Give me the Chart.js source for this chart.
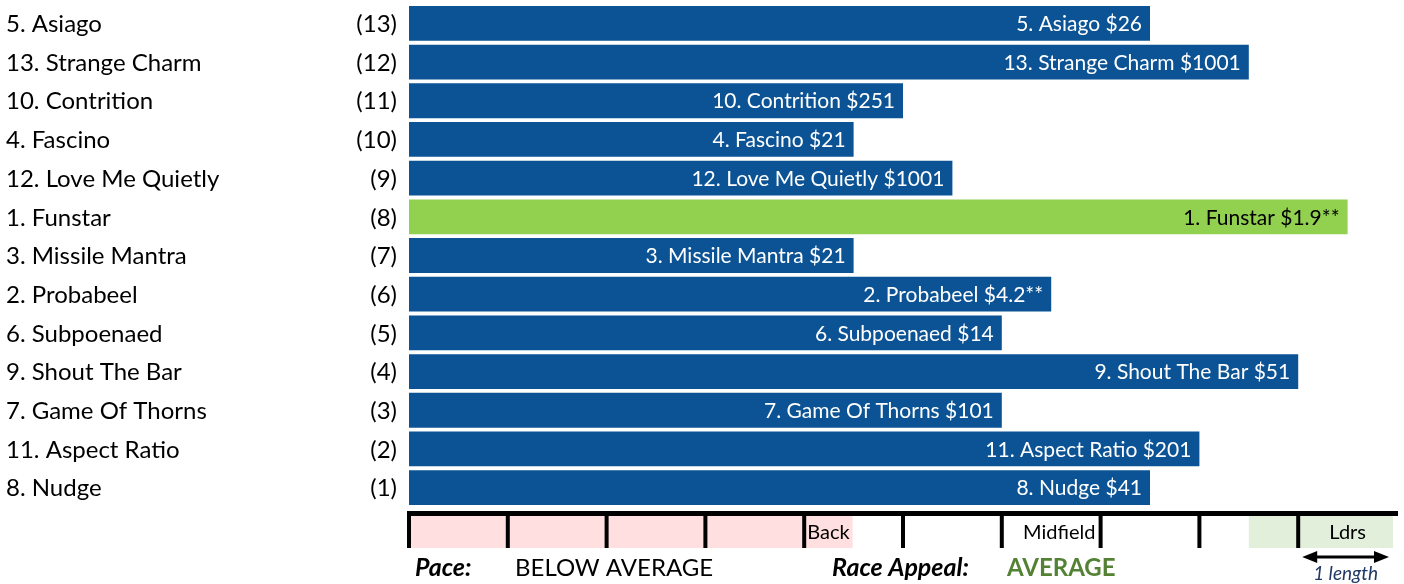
<!DOCTYPE html>
<html>
<head>
<meta charset="utf-8">
<script src="https://cdn.jsdelivr.net/npm/chart.js@4.4.1/dist/chart.umd.min.js"></script>
<style>
  html, body { margin: 0; padding: 0; background: #fff; }
  #wrap { width: 1404px; height: 584px; }
</style>
</head>
<body>
<div id="wrap"><canvas id="chart1"></canvas></div>
<script>
"use strict";

// RUNNERS (top to bottom)
const runners = ['5. Asiago', '13. Strange Charm', '10. Contrition', '4. Fascino', '12. Love Me Quietly',
    '1. Funstar', '3. Missile Mantra', '2. Probabeel', '6. Subpoenaed', '9. Shout The Bar',
    '7. Game Of Thorns', '11. Aspect Ratio', '8. Nudge'];
const barriers = [13, 12, 11, 10, 9, 8, 7, 6, 5, 4, 3, 2, 1];
const lengths = [7.5, 8.5, 5, 4.5, 5.5, 9.5, 4.5, 6.5, 6, 9, 6, 8, 7.5];
const prices = ['$26', '$1001', '$251', '$21', '$1001', '$1.9**', '$21', '$4.2**', '$14', '$51', '$101', '$201', '$41'];
const favourite = '1. Funstar';

// bottom strip
const sections = ['', '', '', '', 'Back', '', 'Midfield', '', '', 'Ldrs'];
const pace = 'BELOW AVERAGE';
const appeal = 'AVERAGE';

const FONT = 'Lato, "Open Sans", sans-serif';
const blue = '#0B5394';
const green = '#92D050';

const sideLabels = {
    id: 'sideLabels',
    afterDatasetsDraw(chart) {
        const {ctx, scales: {x, y}} = chart;
        ctx.save();
        ctx.textBaseline = 'middle';
        runners.forEach((r, i) => {
            const py = y.getPixelForValue(i) + 1;
            ctx.font = `24px ${FONT}`;
            ctx.fillStyle = '#000';
            ctx.textAlign = 'left';
            ctx.fillText(r, 6, py);
            ctx.textAlign = 'right';
            ctx.fillText(`(${barriers[i]})`, x.left - 12, py);
            // label inside bar
            ctx.font = `21px ${FONT}`;
            ctx.fillStyle = r === favourite ? '#000' : '#fff';
            ctx.fillText(`${r} ${prices[i]}`, x.getPixelForValue(lengths[i]) - 8, py);
        });
        ctx.restore();
    }
};

const strip = {
    id: 'strip',
    afterDraw(chart) {
        const {ctx, scales: {x}, chartArea} = chart;
        const top = chartArea.bottom + 4;
        const bot = top + 37;
        ctx.save();
        // pink area behind
        ctx.fillStyle = '#FFDFDF';
        ctx.fillRect(x.getPixelForValue(0), top, x.getPixelForValue(4) - x.getPixelForValue(0), bot - top);
        ctx.font = `20px ${FONT}`;
        const bw = ctx.measureText('Back').width;
        ctx.fillRect(x.getPixelForValue(4), top, bw + 6, bot - top);
        // green area
        ctx.fillStyle = '#E2EFDA';
        ctx.fillRect(x.getPixelForValue(8.5), top, x.getPixelForValue(10) - x.getPixelForValue(8.5) - 4, bot - top);

        // section texts
        ctx.fillStyle = '#000';
        ctx.textBaseline = 'middle';
        sections.forEach((s, i) => {
            if (!s) return;
            const l = x.getPixelForValue(i), r = x.getPixelForValue(i + 1);
            if (s === 'Back') {
                ctx.textAlign = 'left';
                ctx.fillText(s, l + 3, (top + bot) / 2 + 3);
            } else {
                ctx.textAlign = 'center';
                ctx.fillText(s, (l + r) / 2 + (s === 'Midfield' ? 8 : 0), (top + bot) / 2 + 3);
            }
        });

        // lines
        ctx.fillStyle = '#000';
        ctx.fillRect(x.getPixelForValue(0) - 2, top, x.getPixelForValue(10) - x.getPixelForValue(0) + 3, 5);
        for (let i = 0; i < 10; i++) {
            ctx.fillRect(x.getPixelForValue(i) - 2, top, 4, bot - top);
        }

        // bottom line of text
        const ty = bot + 20;
        ctx.textAlign = 'left';
        ctx.font = `italic bold 25px ${FONT}`;
        ctx.fillText('Pace:', x.left + 6, ty);
        ctx.fillText('Race Appeal:', x.left + 423, ty);
        ctx.font = `24px ${FONT}`;
        ctx.fillText(pace, x.left + 106, ty);
        ctx.font = `bold 24px ${FONT}`;
        ctx.fillStyle = '#548235';
        ctx.fillText(appeal, x.left + 598, ty);

        // 1 length arrow
        const a0 = x.getPixelForValue(9) + 4, a1 = x.getPixelForValue(10) - 8, ay = bot + 9;
        ctx.strokeStyle = '#000';
        ctx.fillStyle = '#000';
        ctx.lineWidth = 3;
        ctx.beginPath();
        ctx.moveTo(a0 + 8, ay);
        ctx.lineTo(a1 - 8, ay);
        ctx.stroke();
        ctx.beginPath();
        ctx.moveTo(a0, ay); ctx.lineTo(a0 + 15, ay - 6); ctx.lineTo(a0 + 15, ay + 6); ctx.closePath();
        ctx.moveTo(a1, ay); ctx.lineTo(a1 - 15, ay - 6); ctx.lineTo(a1 - 15, ay + 6); ctx.closePath();
        ctx.fill();
        ctx.font = `italic 19px ${FONT}`;
        ctx.fillStyle = '#1F3864';
        ctx.textAlign = 'center';
        ctx.fillText('1 length', (a0 + a1) / 2, bot + 26);
        ctx.restore();
    }
};

const ctx = document.getElementById('chart1').getContext('2d');

const myChart = new Chart(ctx, {
    type: 'bar',
    data: {
        labels: runners,
        datasets: [{
            data: lengths,
            backgroundColor: runners.map(r => r === favourite ? green : blue),
            categoryPercentage: 0.9,
            barPercentage: 1
        }]
    },
    options: {
        indexAxis: 'y',
        responsive: true,
        maintainAspectRatio: false,
        animation: false,
        layout: {
            padding: {left: 409, right: 7, top: 4, bottom: 77}
        },
        plugins: {
            legend: {display: false},
            tooltip: {enabled: false}
        },
        scales: {
            x: {display: false, min: 0, max: 10},
            y: {display: false}
        }
    },
    plugins: [sideLabels, strip]
});
</script>
</body>
</html>
